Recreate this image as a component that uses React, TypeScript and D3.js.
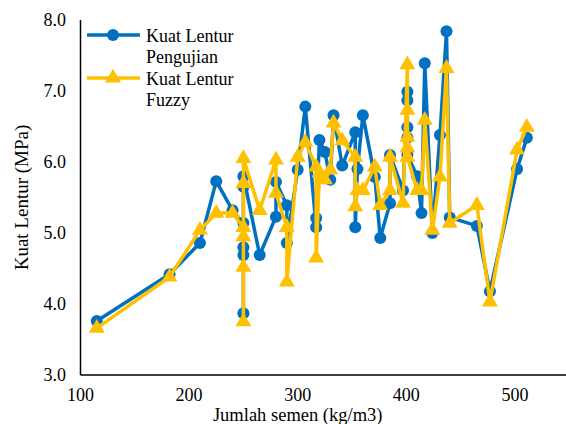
import React from "react";
import * as d3 from "d3";

// Cement content (kg/m3) of each sample
const cement = [
  115, 182, 210, 225, 240,
  250, 250, 250, 250, 250, 250,
  265, 280, 280, 290, 290, 300, 307,
  317, 317, 320, 325, 330, 333, 341,
  353, 353, 355, 360, 371, 376, 385, 385, 397,
  401, 401, 401, 401, 401, 410,
  414, 417, 424, 431, 437, 440, 465, 477, 502, 511,
];

// Measured flexural strength (MPa)
const pengujian = [
  3.76, 4.42, 4.86, 5.73, 5.32,
  5.14, 3.87, 4.69, 4.8, 5.65, 5.8,
  4.69, 5.23, 5.72, 5.39, 4.86, 5.89, 6.78,
  5.08, 5.21, 6.31, 6.14, 5.75, 6.66, 5.95,
  6.42, 5.08, 5.9, 6.66, 5.79, 4.93, 5.42, 6.1, 5.6,
  6.99, 6.87, 6.49, 6.34, 6.1, 5.8,
  5.28, 7.39, 5.0, 6.38, 7.84, 5.22, 5.1, 4.18, 5.9, 6.34,
];

// Fuzzy-predicted flexural strength (MPa)
const fuzzy = [
  3.66, 4.38, 5.04, 5.28, 5.28,
  5.08, 3.75, 4.52, 4.95, 5.7, 6.05,
  5.32, 6.03, 5.56, 5.08, 4.31, 6.07, 6.28,
  5.93, 4.65, 5.85, 5.75, 5.89, 6.55, 6.3,
  6.07, 5.37, 5.6, 5.6, 5.93, 5.39, 5.6, 6.07, 5.42,
  7.37, 6.73, 6.35, 6.2, 6.07, 5.6,
  5.6, 6.59, 5.04, 5.79, 7.32, 5.14, 5.39, 4.03, 6.17, 6.49,
];

const xTicks = [100, 200, 300, 400, 500];
const yTicks = [3, 4, 5, 6, 7, 8];

const W = 566;
const H = 424;
const BLUE = "#0070C0";
const GOLD = "#FFC000";
const FONT = "'Times New Roman', 'Liberation Serif', 'DejaVu Serif', Times, serif";

export default function App() {
  const x = d3.scaleLinear().domain([100, 600]).range([80.5, 623.5]);
  const y = d3.scaleLinear().domain([3, 8]).range([375, 20]);

  const idx = d3.range(cement.length);
  const line = (vals: number[]) =>
    d3
      .line<number>()
      .x((i) => x(cement[i]))
      .y((i) => y(vals[i]))(idx) as string;

  const tri = d3.symbol().type(d3.symbolTriangle).size(110)() as string;

  return (
    <div style={{ position: "fixed", left: 0, top: 0 }}>
      <svg
        width={W}
        height={H}
        fontFamily={FONT}
        style={{ display: "block", background: "#fff" }}
      >
        {/* axes */}
        <line x1={80.5} x2={80.5} y1={20} y2={375} stroke="#000" strokeWidth={1.5} />
        <line x1={80.5} x2={W} y1={375} y2={375} stroke="#000" strokeWidth={1.5} />

        {yTicks.map((t) => (
          <text
            key={"y" + t}
            x={66}
            y={y(t)}
            dy="0.35em"
            textAnchor="end"
            fontSize={18}
            fill="#000"
          >
            {d3.format(".1f")(t)}
          </text>
        ))}
        {xTicks.map((t) => (
          <text key={"x" + t} x={x(t)} y={401} textAnchor="middle" fontSize={18} fill="#000">
            {t}
          </text>
        ))}

        <text x={x(300)} y={421} textAnchor="middle" fontSize={18.5} fill="#000">
          Jumlah semen (kg/m3)
        </text>
        <text
          transform={`translate(28,${y(5.5)}) rotate(-90)`}
          textAnchor="middle"
          fontSize={19}
          fill="#000"
        >
          Kuat Lentur (MPa)
        </text>

        {/* measured series */}
        <path d={line(pengujian)} fill="none" stroke={BLUE} strokeWidth={3.5} strokeLinejoin="round" />
        {idx.map((i) => (
          <circle key={"b" + i} cx={x(cement[i])} cy={y(pengujian[i])} r={6} fill={BLUE} />
        ))}

        {/* fuzzy series */}
        <path d={line(fuzzy)} fill="none" stroke={GOLD} strokeWidth={3.5} strokeLinejoin="round" />
        {idx.map((i) => (
          <path
            key={"g" + i}
            d={tri}
            transform={`translate(${x(cement[i])},${y(fuzzy[i])})`}
            fill={GOLD}
          />
        ))}

        {/* legend */}
        <g fontSize={18} fill="#000">
          <line x1={87} x2={140} y1={35} y2={35} stroke={BLUE} strokeWidth={3.5} />
          <circle cx={113} cy={35} r={6} fill={BLUE} />
          <text x={146} y={42}>Kuat Lentur</text>
          <text x={146} y={63}>Pengujian</text>
          <line x1={87} x2={140} y1={78} y2={78} stroke={GOLD} strokeWidth={3.5} />
          <path d={tri} transform="translate(113,78)" fill={GOLD} />
          <text x={146} y={85}>Kuat Lentur</text>
          <text x={146} y={106}>Fuzzy</text>
        </g>
      </svg>
    </div>
  );
}
